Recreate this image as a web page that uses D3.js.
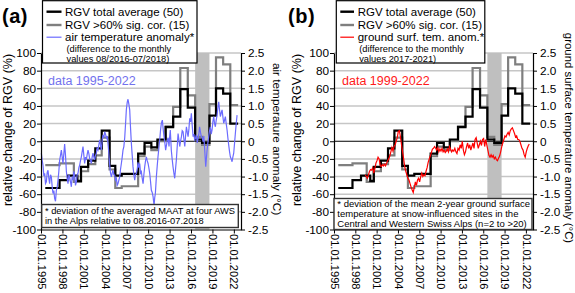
<!DOCTYPE html>
<html><head><meta charset="utf-8">
<script src="https://cdn.jsdelivr.net/npm/d3@7"></script>
<style>
body{margin:0;background:#fff}
svg{display:block}
text{font-family:"Liberation Sans",Arial,sans-serif}
</style>
</head><body>
<svg id="c" width="575" height="293"></svg>
<script>
// ---------------- DATA ----------------
// RGV total average (50): step start years and values (%)
const rgvTotalStart = [1995.6,1997.6,1998.8,2000.1,2000.6,2001.6,2002.6,2003.5,2004.6,2005.4,2006.3,2008.6,2009.5,2010.45,2011.3,2012.45,2013.5,2014.5,2015.55,2016.58,2017.55,2018.58,2019.5,2020.5,2021.5];
const rgvTotalValue = [-53,-44,-39,-45,-29,-22,-8,12,-28,-39,-37,-14,-2,-7,2,16,28,59,38,2,-2,29,60,54,20];
const rgvTotalEnd = 2022.6;
// RGV >60% sig. cor. (15)
const rgvSigStart = [1995.6,1997.6,1999.6,2000.6,2001.6,2002.6,2003.5,2004.6,2005.4,2006.3,2008.6,2009.5,2010.45,2011.3,2012.45,2013.5,2014.5,2015.55,2016.58,2017.55,2018.58,2019.5,2020.5,2021.5];
const rgvSigValue = [-27,-25,-46,-34,-26,-16,4,-32,-53,-51,-17,-6,-10,0,17,39,83,52,5,-4,42,95,87,41];
const rgvSigEnd = 2022.6;

// Air temperature anomaly (°C), panel a
const airYear = [1995.05,1995.17,1995.28,1995.4,1995.51,1995.63,1995.75,1995.87,1995.98,1996.1,1996.21,1996.33,1996.45,1996.57,1996.68,1996.8,1996.91,1997.03,1997.15,1997.27,1997.38,1997.5,1997.61,1997.73,1997.85,1997.97,1998.08,1998.2,1998.31,1998.43,1998.55,1998.66,1998.78,1998.9,1999.01,1999.13,1999.25,1999.36,1999.48,1999.6,1999.71,1999.83,1999.95,2000.06,2000.18,2000.3,2000.41,2000.53,2000.65,2000.76,2000.88,2001.0,2001.11,2001.23,2001.35,2001.46,2001.58,2001.7,2001.81,2001.93,2002.05,2002.16,2002.28,2002.4,2002.51,2002.63,2002.75,2002.86,2002.98,2003.1,2003.22,2003.33,2003.45,2003.57,2003.68,2003.8,2003.92,2004.03,2004.15,2004.27,2004.38,2004.5,2004.62,2004.73,2004.85,2004.97,2005.08,2005.2,2005.32,2005.43,2005.55,2005.67,2005.78,2005.9,2006.02,2006.13,2006.25,2006.37,2006.48,2006.6,2006.72,2006.84,2006.95,2007.07,2007.18,2007.3,2007.42,2007.53,2007.65,2007.77,2007.88,2008.0,2008.12,2008.23,2008.35,2008.47,2008.58,2008.7,2008.82,2008.94,2009.05,2009.17,2009.29,2009.4,2009.52,2009.64,2009.75,2009.87,2009.99,2010.1,2010.22,2010.34,2010.45,2010.57,2010.69,2010.76,2010.83,2010.92,2011.01,2011.08,2011.15,2011.27,2011.38,2011.5,2011.62,2011.73,2011.85,2011.99,2012.1,2012.22,2012.34,2012.45,2012.57,2012.69,2012.8,2012.92,2013.0,2013.1,2013.17,2013.24,2013.36,2013.48,2013.6,2013.72,2013.83,2013.95,2014.07,2014.19,2014.3,2014.42,2014.54,2014.66,2014.77,2014.89,2015.01,2015.13,2015.24,2015.36,2015.48,2015.59,2015.71,2015.82,2015.94,2016.05,2016.17,2016.29,2016.4,2016.52,2016.64,2016.75,2016.87,2016.99,2017.1,2017.2,2017.33,2017.45,2017.57,2017.69,2017.8,2017.92,2018.06,2018.15,2018.25,2018.36,2018.48,2018.6,2018.71,2018.83,2018.95,2019.06,2019.18,2019.3,2019.41,2019.53,2019.65,2019.76,2019.88,2019.99,2020.11,2020.23,2020.35,2020.46,2020.58,2020.7,2020.81,2020.93,2021.05,2021.16,2021.28,2021.4,2021.51,2021.63,2021.75,2021.86,2021.98,2022.1,2022.21,2022.33,2022.45];
const airAnom = [-0.34,-0.55,-0.68,-0.98,-0.91,-1.2,-1.15,-0.88,-0.82,-1.05,-1.2,-0.95,-1.01,-1.3,-1.48,-1.4,-1.62,-1.7,-1.39,-1.3,-1.1,-0.85,-0.53,-0.4,-0.25,-0.45,-0.63,-0.35,-0.08,-0.4,-0.85,-1.05,-1.2,-0.95,-1.01,-1.15,-1.29,-1.0,-1.1,-0.85,-0.96,-1.25,-1.15,-0.95,-0.91,-0.75,-0.68,-0.55,-0.44,-0.3,-0.15,-0.4,-0.63,-0.45,-0.53,-0.38,-0.25,-0.35,-0.49,-0.55,-0.63,-0.45,-0.34,-0.45,-0.53,-0.4,-0.34,-0.2,-0.25,-0.1,0.04,-0.1,-0.25,0.05,0.18,0.1,0.27,0.2,0.09,0.15,-0.06,-0.35,-0.68,-0.9,-1.01,-0.9,-0.82,-0.95,-0.96,-1.1,-1.05,-1.25,-1.2,-1.1,-1.01,-0.8,-0.63,-0.45,-0.25,-0.15,0.1,0.5,0.9,1.1,1.19,1.05,0.89,0.4,-0.06,-0.4,-0.72,-0.95,-1.1,-0.95,-0.91,-0.8,-0.6,-0.75,-0.63,-0.9,-0.86,-1.05,-1.2,-0.95,-0.72,-0.55,-0.44,-0.55,-0.63,-0.75,-0.91,-1.15,-1.39,-1.45,-1.57,-1.7,-1.81,-1.6,-1.48,-1.25,-1.01,-0.7,-0.44,-0.2,0.04,0.3,0.51,0.6,0.35,0.13,-0.05,-0.25,-0.1,0.04,0.1,-0.15,0.1,0.32,0.05,-0.25,-0.5,-0.72,-0.9,-1.05,-0.8,-0.53,-0.15,0.22,0.05,-0.15,0.0,0.13,0.3,0.27,0.05,-0.15,0.15,0.41,0.25,0.13,0.35,0.65,0.55,0.79,0.45,0.13,0.2,0.04,0.1,0.18,-0.05,0.09,0.2,0.41,0.25,0.13,0.1,-0.01,0.15,-0.25,-0.72,-0.5,-0.25,-0.05,0.13,0.3,0.41,0.2,0.32,0.55,0.7,0.5,0.41,0.6,0.74,0.95,1.12,0.9,0.7,0.8,0.89,0.7,0.51,0.6,0.7,0.5,0.32,0.1,-0.11,-0.3,-0.44,-0.5,-0.58,-0.45,-0.34,-0.05,0.22,0.5,0.74];

// Ground surface temperature anomaly (°C), panel b
const gstYear = [1999.4,1999.55,1999.7,1999.85,2000.0,2000.15,2000.3,2000.45,2000.6,2000.75,2000.9,2001.05,2001.2,2001.35,2001.5,2001.65,2001.8,2001.95,2002.1,2002.25,2002.4,2002.55,2002.7,2002.85,2003.0,2003.15,2003.3,2003.45,2003.6,2003.75,2003.9,2004.05,2004.2,2004.35,2004.5,2004.65,2004.8,2004.95,2005.1,2005.25,2005.4,2005.55,2005.7,2005.85,2006.0,2006.15,2006.3,2006.45,2006.6,2006.75,2006.9,2007.05,2007.2,2007.35,2007.5,2007.65,2007.8,2007.95,2008.1,2008.25,2008.4,2008.55,2008.7,2008.85,2009.0,2009.15,2009.3,2009.45,2009.6,2009.75,2009.9,2010.05,2010.2,2010.35,2010.5,2010.65,2010.8,2010.95,2011.1,2011.25,2011.4,2011.55,2011.7,2011.85,2012.0,2012.15,2012.3,2012.45,2012.6,2012.75,2012.9,2013.05,2013.2,2013.35,2013.5,2013.65,2013.8,2013.95,2014.1,2014.25,2014.4,2014.55,2014.7,2014.85,2015.0,2015.15,2015.3,2015.45,2015.6,2015.75,2015.9,2016.05,2016.2,2016.35,2016.5,2016.65,2016.8,2016.95,2017.1,2017.25,2017.4,2017.55,2017.7,2017.85,2018.0,2018.15,2018.3,2018.45,2018.6,2018.75,2018.9,2019.05,2019.2,2019.35,2019.5,2019.65,2019.8,2019.95,2020.1,2020.25,2020.4,2020.55,2020.7,2020.85,2021.0,2021.15,2021.3,2021.45,2021.6,2021.75,2021.9,2022.05,2022.2,2022.35,2022.48];
const gstAnom = [-0.95,-1.0,-1.05,-0.95,-0.85,-0.8,-0.82,-0.75,-0.9,-0.78,-0.62,-0.55,-0.45,-0.5,-0.68,-0.72,-0.66,-0.7,-0.65,-0.7,-0.62,-0.55,-0.5,-0.42,-0.3,-0.18,-0.28,-0.15,-0.1,0.0,0.1,0.28,0.3,0.12,-0.1,-0.3,-0.5,-0.72,-0.85,-0.95,-1.05,-1.1,-1.2,-1.3,-1.38,-1.45,-1.3,-1.15,-1.25,-1.1,-1.05,-1.15,-1.0,-0.9,-1.0,-0.95,-0.98,-0.85,-0.75,-0.6,-0.5,-0.42,-0.32,-0.22,-0.2,-0.15,-0.2,-0.25,-0.18,-0.3,-0.22,-0.28,-0.2,-0.3,-0.25,-0.32,-0.28,-0.22,-0.3,-0.15,-0.22,-0.3,-0.25,-0.28,-0.2,-0.3,-0.35,-0.2,-0.25,-0.1,-0.2,0.0,-0.25,-0.38,-0.3,-0.15,-0.05,-0.2,-0.1,-0.25,-0.15,-0.05,-0.2,0.05,0.1,-0.05,-0.2,-0.1,0.0,-0.12,0.05,0.08,-0.15,0.05,-0.1,-0.25,-0.4,-0.45,-0.38,-0.45,-0.4,-0.5,-0.45,-0.52,-0.55,-0.48,-0.42,-0.3,-0.15,-0.05,0.05,0.15,0.12,0.2,0.25,0.18,0.3,0.35,0.38,0.3,0.22,0.12,0.15,0.05,0.05,0.0,-0.1,-0.2,-0.25,-0.38,-0.45,-0.3,-0.2,-0.12,-0.08];

// reference period band (08/2016 - 07/2018)
const bandStart = 2016.58, bandEnd = 2018.58;

// tick values / labels
const xTickYears = [1995,1998,2001,2004,2007,2010,2013,2016,2019,2022];
const leftTicks = [-100,-80,-60,-40,-20,0,20,40,60,80,100];
const rightTicks = [-2.5,-2.0,-1.5,-1.0,-0.5,0,0.5,1.0,1.5,2.0,2.5];

// ---------------- DRAW ----------------
const svg = d3.select("#c");
const TOP = 53, BOT = 229.5;

function stepPoints(starts, vals, end) {
  const pts = starts.map((s,i) => [s, vals[i]]);
  pts.push([end, vals[vals.length-1]]);
  return pts;
}

function drawPanel(p) {
  const x = d3.scaleLinear().domain([1995, 2023]).range([p.left, p.right]);
  const y = d3.scaleLinear().domain([-100, 100]).range([BOT, TOP]);
  const y2 = d3.scaleLinear().domain([-2.5, 2.5]).range([BOT, TOP]);
  const g = svg.append("g");

  g.selectAll(".grid").data(leftTicks.filter(d => d !== 0 && d !== -100)).enter().append("line")
    .attr("x1", p.left).attr("x2", p.right)
    .attr("y1", d => y(d)).attr("y2", d => y(d))
    .attr("stroke", "#c6c6c6").attr("stroke-width", 1.5);

  g.append("rect").attr("x", x(bandStart)).attr("y", y(100))
    .attr("width", x(bandEnd) - x(bandStart)).attr("height", y(-100) - y(100))
    .attr("fill", "#bfbfbf");

  g.append("line").attr("x1", p.left).attr("x2", p.right)
    .attr("y1", y(0)).attr("y2", y(0)).attr("stroke", "#000").attr("stroke-width", 1);

  const stepLine = d3.line().x(d => x(d[0])).y(d => y(d[1])).curve(d3.curveStepAfter);
  g.append("path").attr("d", stepLine(stepPoints(rgvSigStart, rgvSigValue, rgvSigEnd)))
    .attr("fill", "none").attr("stroke", "#7f7f7f").attr("stroke-width", 2.2);
  g.append("path").attr("d", stepLine(stepPoints(rgvTotalStart, rgvTotalValue, rgvTotalEnd)))
    .attr("fill", "none").attr("stroke", "#000").attr("stroke-width", 2.2);

  const tLine = d3.line().x((d,i) => x(p.tYear[i])).y(d => y2(d));
  g.append("path").attr("d", tLine(p.tVal))
    .attr("fill", "none").attr("stroke", p.tColor).attr("stroke-width", 1.2);

  const ax = g.append("g").attr("transform", `translate(0,${BOT})`)
    .call(d3.axisBottom(x).tickValues(xTickYears).tickFormat(d => "01.01." + d).tickSize(4).tickSizeOuter(0));
  const al = g.append("g").attr("transform", `translate(${p.left},0)`)
    .call(d3.axisLeft(y).tickValues(leftTicks).tickFormat(d => String(d)).tickSize(4).tickPadding(1).tickSizeOuter(0));
  const ar = g.append("g").attr("transform", `translate(${p.right},0)`)
    .call(d3.axisRight(y2).tickValues(rightTicks).tickFormat(d => d === 0 ? "0" : d.toFixed(1)).tickSize(4).tickPadding(3).tickSizeOuter(0));
  [ax, al, ar].forEach(a => {
    a.selectAll("text").attr("font-size", 11.8).attr("fill", "#000").attr("font-family", '"Liberation Sans", Arial, sans-serif');
    a.selectAll("line").attr("stroke", "#000");
    a.select(".domain").attr("stroke", "#000").attr("stroke-width", 1.2);
  });
  ax.selectAll("text").attr("transform", "rotate(90)").attr("text-anchor", "start")
    .attr("x", 4.5).attr("y", 0).attr("dy", "0.35em").attr("font-size", 11.1);

  g.append("text").attr("transform", `translate(${p.leftTitleX},130) rotate(-90)`)
    .attr("text-anchor", "middle").attr("dominant-baseline", "central")
    .attr("font-size", 12.5).text("relative change of RGV (%)");
  g.append("text").attr("transform", `translate(${p.rightTitleX},${p.rightTitleY}) rotate(90)`)
    .attr("text-anchor", "middle").attr("dominant-baseline", "central")
    .attr("font-size", p.rightTitleFs).text(p.rightTitle);

  g.append("text").attr("x", p.letterX).attr("y", 23).attr("font-size", 20).attr("font-weight", "bold")
    .attr("letter-spacing", 0.5).text(p.letter);

  g.append("text").attr("x", p.dataX).attr("y", 85).attr("font-family", '"Open Sans", sans-serif')
    .attr("font-size", 12.5).attr("fill", p.dataColor).text(p.dataText);

  const L = p.legend;
  g.append("rect").attr("x", L.x).attr("y", 0.7).attr("width", L.w).attr("height", 62.3)
    .attr("fill", "#fff").attr("stroke", "#000").attr("stroke-width", 1.2);
  const items = [
    {c: "#000", w: 2.4, t: "RGV total average (50)", yy: 11.7},
    {c: "#7f7f7f", w: 2.4, t: "RGV >60% sig. cor. (15)", yy: 25},
    {c: p.tColor, w: 1.2, t: p.legendT, yy: 37.2}
  ];
  items.forEach(it => {
    g.append("line").attr("x1", L.lx1).attr("x2", L.lx2).attr("y1", it.yy).attr("y2", it.yy)
      .attr("stroke", it.c).attr("stroke-width", it.w);
    g.append("text").attr("x", L.tx).attr("y", it.yy).attr("dy", "0.35em")
      .attr("font-size", 11.5).text(it.t);
  });
  p.legendSmall.forEach((t, i) => {
    g.append("text").attr("x", L.tx + 1.5).attr("y", 48.8 + i * 9.8).attr("dy", "0.35em")
      .attr("font-size", 9.3).text(t);
  });

  const F = p.foot;
  g.append("rect").attr("x", F.x).attr("y", F.y).attr("width", F.w).attr("height", F.h)
    .attr("fill", "#fff").attr("stroke", "#333").attr("stroke-width", 1.4);
  F.lines.forEach((t, i) => {
    g.append("text").attr("x", F.x + 3.3).attr("y", F.y0 + i * F.dy).attr("dy", "0.35em")
      .attr("font-size", F.fs).text(t);
  });
}

drawPanel({
  left: 41, right: 241, letter: "(a)", letterX: 2,
  tYear: airYear, tVal: airAnom, tColor: "#6b6bff",
  leftTitleX: 7.5, rightTitleX: 277, rightTitleY: 139, rightTitleFs: 11.8,
  rightTitle: "air temperature anomaly (°C)",
  dataX: 48, dataText: "data 1995-2022", dataColor: "#7272ee",
  legend: {x: 42.5, w: 154.5, lx1: 46.5, lx2: 61.5, tx: 65},
  legendT: "air temperature anomaly*",
  legendSmall: ["(difference to the monthly", "values 08/2016-07/2018)"],
  foot: {x: 41.7, y: 204.5, w: 196.6, h: 23, y0: 210.8, dy: 9.7, fs: 9.3,
    lines: ["* deviation of the averaged MAAT at four AWS", "in the Alps relative to 08.2016-07.2018"]}
});

drawPanel({
  left: 334, right: 533, letter: "(b)", letterX: 288,
  tYear: gstYear, tVal: gstAnom, tColor: "#ff0000",
  leftTitleX: 297, rightTitleX: 568.5, rightTitleY: 138, rightTitleFs: 11.4,
  rightTitle: "ground surface temperature anomaly (°C)",
  dataX: 342, dataText: "data 1999-2022", dataColor: "#ff1a1a",
  legend: {x: 336.3, w: 148.5, lx1: 340.3, lx2: 354, tx: 357.7},
  legendT: "ground surf. tem. anom.*",
  legendSmall: ["(difference to the monthly", "values 2017-2021)"],
  foot: {x: 334, y: 198.5, w: 198, h: 31, y0: 204, dy: 9.7, fs: 9.5,
    lines: ["* deviation of the mean 2-year ground surface", "temperature at snow-influenced sites in the", "Central and Western Swiss Alps (n=2 to >20)"]}
});
</script>
</body></html>
